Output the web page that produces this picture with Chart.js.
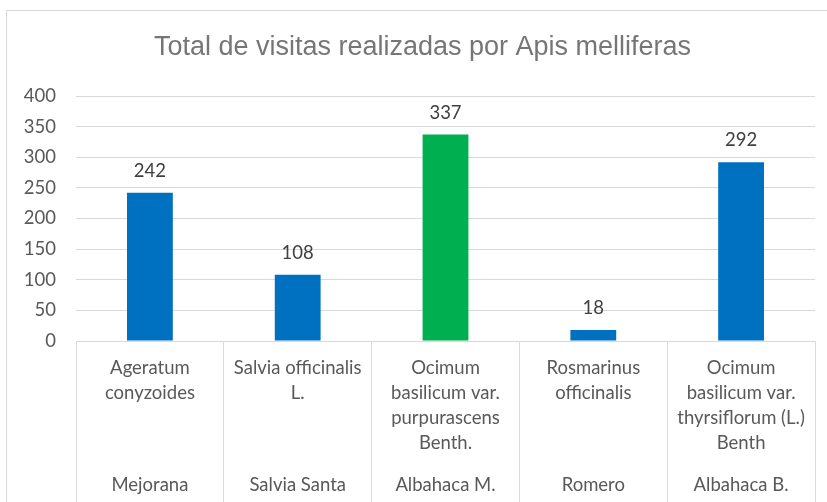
<!DOCTYPE html>
<html>
<head>
<meta charset="utf-8">
<script src="https://cdn.jsdelivr.net/npm/chart.js@4.4.0/dist/chart.umd.min.js"></script>
<style>
  html, body { margin: 0; padding: 0; background: #ffffff; overflow: hidden; }
  #frame { position: absolute; left: 6px; top: 10px; width: 900px; height: 600px; border: 1px solid #d9d9d9; box-sizing: border-box; }
  #c { position: absolute; left: 0; top: 0; }
</style>
</head>
<body>
<div id="frame"></div>
<canvas id="c" width="827" height="502"></canvas>
<script>
const chartTitle = 'Total de visitas realizadas por Apis melliferas';
const scientificNames = [
  ['Ageratum', 'conyzoides'],
  ['Salvia officinalis', 'L.'],
  ['Ocimum', 'basilicum var.', 'purpurascens', 'Benth.'],
  ['Rosmarinus', 'officinalis'],
  ['Ocimum', 'basilicum var.', 'thyrsiflorum (L.)', 'Benth']
];
const commonNames = ['Mejorana', 'Salvia Santa', 'Albahaca M.', 'Romero', 'Albahaca B.'];
const visits = [242, 108, 337, 18, 292];
const barColors = ['#0070C0', '#0070C0', '#00B050', '#0070C0', '#0070C0'];

const labelFont = 'Lato, "Open Sans", sans-serif';
const labelSize = 18.5;
const gridColor = '#d9d9d9';

const valueLabels = {
  id: 'valueLabels',
  afterDatasetsDraw(chart) {
    const ctx = chart.ctx;
    const meta = chart.getDatasetMeta(0);
    ctx.save();
    ctx.font = labelSize + 'px ' + labelFont;
    ctx.fillStyle = '#404040';
    ctx.textAlign = 'center';
    ctx.textBaseline = 'middle';
    meta.data.forEach((bar, i) => {
      ctx.fillText(String(visits[i]), bar.x, bar.y - 22);
    });
    ctx.restore();
  }
};

const chartTitlePlugin = {
  id: 'chartTitlePlugin',
  afterDraw(chart) {
    const ctx = chart.ctx;
    ctx.save();
    ctx.font = '27px "Liberation Sans", Arial, sans-serif';
    ctx.fillStyle = '#767676';
    ctx.textAlign = 'center';
    ctx.textBaseline = 'middle';
    ctx.fillText(chartTitle, (chart.width + 18) / 2, 48);
    ctx.restore();
  }
};

new Chart(document.getElementById('c'), {
  type: 'bar',
  data: {
    labels: scientificNames,
    datasets: [{
      data: visits,
      backgroundColor: barColors,
      borderWidth: 0,
      categoryPercentage: 1,
      barPercentage: 0.31,
      xAxisID: 'x',
      yAxisID: 'y'
    }]
  },
  options: {
    responsive: false,
    animation: false,
    devicePixelRatio: 1,
    layout: { padding: { left: 0, right: 12, top: 96, bottom: 0 } },
    plugins: {
      legend: { display: false },
      tooltip: { enabled: false },
      title: { display: false }
    },
    scales: {
      x: {
        type: 'category',
        position: 'bottom',
        weight: 0,
        offset: true,
        grid: {
          display: true,
          offset: true,
          drawOnChartArea: false,
          drawTicks: true,
          tickLength: 175,
          color: gridColor,
          lineWidth: 1
        },
        border: { display: true, color: gridColor, width: 1 },
        ticks: {
          autoSkip: false,
          maxRotation: 0,
          minRotation: 0,
          padding: -160.5,
          color: '#595959',
          font: { family: labelFont, size: labelSize, lineHeight: '25px' }
        },
        afterFit(scale) { scale.height = 120; }
      },
      x2: {
        type: 'category',
        position: 'bottom',
        weight: 1,
        offset: true,
        labels: commonNames,
        grid: { display: false, drawTicks: false },
        border: { display: false },
        ticks: {
          autoSkip: false,
          maxRotation: 0,
          minRotation: 0,
          padding: 11.5,
          color: '#595959',
          font: { family: labelFont, size: labelSize, lineHeight: '25px' }
        },
        afterFit(scale) { scale.height = 41; }
      },
      y: {
        min: 0,
        max: 400,
        ticks: {
          stepSize: 50,
          padding: 20,
          color: '#595959',
          font: { family: labelFont, size: labelSize }
        },
        grid: { color: gridColor, drawTicks: false, lineWidth: 1 },
        border: { display: false },
        afterFit(scale) { scale.width = 76; }
      }
    }
  },
  plugins: [valueLabels, chartTitlePlugin]
});
</script>
</body>
</html>
